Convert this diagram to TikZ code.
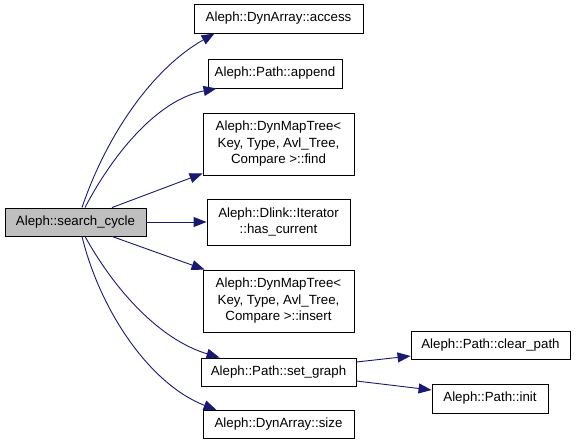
\documentclass[tikz,border=0pt]{standalone}
\usepackage{fontspec}
\setmainfont{Liberation Sans}
\usetikzlibrary{arrows.meta}
\definecolor{edgeblue}{HTML}{191970}
\definecolor{cur}{HTML}{BFBFBF}
\begin{document}
\begin{tikzpicture}[x=1pt,y=-1pt,line width=0.9pt,
  fn/.style={draw,fill=white,inner sep=0pt,align=center,
    font=\fontsize{13.3}{16.5}\selectfont},
  call/.style={draw=edgeblue,-{Triangle[length=13pt,width=10pt]},fill=none}]
  \useasboundingbox (0,0) rectangle (576,445);

  % caller
  \node[fn,fill=cur,minimum width=141,minimum height=28] (sc) at (75.5,222) {Aleph::search\_cycle};

  % callees
  \node[fn,minimum width=169,minimum height=29] (acc) at (278.5,18.5) {Aleph::DynArray::access};
  \node[fn,minimum width=134,minimum height=29] (app) at (275,73.5) {Aleph::Path::append};
  \node[fn,minimum width=151,minimum height=62] (fnd) at (278.5,144) {Aleph::DynMapTree<\\ Key, Type, Avl\_Tree,\\ Compare >::find};
  \node[fn,minimum width=143,minimum height=46] (hc) at (278.5,222) {Aleph::Dlink::Iterator\\ ::has\_current};
  \node[fn,minimum width=151,minimum height=62] (ins) at (278.5,301) {Aleph::DynMapTree<\\ Key, Type, Avl\_Tree,\\ Compare >::insert};
  \node[fn,minimum width=155,minimum height=28] (sg) at (278.5,372) {Aleph::Path::set\_graph};
  \node[fn,minimum width=151,minimum height=28] (sz) at (278.5,424.5) {Aleph::DynArray::size};
  \node[fn,minimum width=159,minimum height=28] (cp) at (490.5,345) {Aleph::Path::clear\_path};
  \node[fn,minimum width=116,minimum height=29] (ini) at (490,398.5) {Aleph::Path::init};

  % calls from search_cycle
  \draw[call] ([xshift=6.5pt]sc.north) .. controls +(23,-68) and +(-65,37) .. ([xshift=21pt]acc.south west);
  \draw[call] ([xshift=9.5pt]sc.north) .. controls +(25,-48) and +(-62,12) .. ([xshift=9pt]app.south west);
  \draw[call] ([xshift=36.5pt]sc.north) -- ([yshift=2pt]fnd.south west);
  \draw[call] (sc.east) -- (hc.west);
  \draw[call] ([xshift=36.5pt]sc.south) -- ([xshift=2pt]ins.north west);
  \draw[call] ([xshift=9.5pt]sc.south) .. controls +(30,54) and +(-60,-18) .. ([xshift=19pt]sg.north west);
  \draw[call] ([xshift=6.5pt]sc.south) .. controls +(18,74) and +(-67,-26) .. ([xshift=14pt]sz.north west);

  % calls from set_graph
  \draw[call] ([yshift=10pt]sg.east) -- ([yshift=-11pt]cp.west);
  \draw[call] ([yshift=-9pt]sg.east) -- ([yshift=8.5pt]ini.west);
\end{tikzpicture}
\end{document}
